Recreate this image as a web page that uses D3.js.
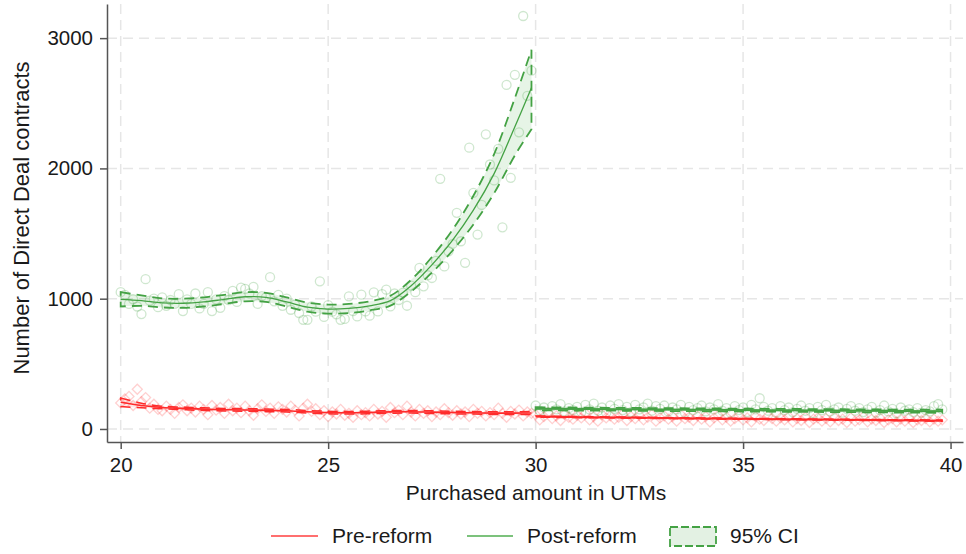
<!DOCTYPE html>
<html>
<head>
<meta charset="utf-8">
<script src="https://cdn.jsdelivr.net/npm/d3@7"></script>
<style>
  body { margin: 0; background: #fff; }
  svg { display: block; }
  text { font-family: "Liberation Sans", Arial, sans-serif; fill: #1a1a1a; }
</style>
</head>
<body>
<svg width="966" height="554"></svg>
<script>
// **** data: bin counts, bins are 0.1 UTM wide ****
const binWidth = 0.1;
const leftStart = 20;   // bins 20.0 .. 29.9
const rightStart = 30;  // bins 30.0 .. 39.8

// Post-reform counts below the 30 UTM threshold
const postLeft = [
  1050, 1030, 960, 995, 940, 882, 1150, 985, 1000, 935,
  1010, 945, 990, 960, 1035, 905, 995, 960, 1040, 925,
  960, 1050, 905, 995, 930, 1020, 990, 1060, 975, 1085,
  1075, 1040, 1090, 960, 1020, 1010, 1165, 980, 1030, 945,
  1000, 915, 955, 890, 838, 838, 940, 900, 1133, 860,
  950, 900, 880, 838, 845, 1018, 905, 864, 1031, 902,
  870, 1049, 902, 1035, 1069, 941, 1040, 990, 1046, 946,
  1100, 1050, 1236, 1095, 1180, 1159, 1290, 1920, 1248, 1364,
  1420, 1659, 1441, 1275, 2159, 1813, 1492, 1720, 2262, 2030,
  1908, 2150, 1548, 2641, 1928, 2718, 2277, 3170, 2557, 2750
];
// Pre-reform counts below the threshold
const preLeft = [
  200, 230, 250, 180, 305, 210, 241, 160, 190, 150,
  140, 175, 150, 120, 165, 185, 140, 160, 130, 175,
  150, 110, 180, 145, 165, 120, 190, 140, 160, 125,
  175, 140, 105, 155, 185, 135, 160, 120, 170, 150,
  130, 175, 145, 100, 160, 190, 135, 155, 110, 140,
  95, 130, 115, 150, 105, 120, 90, 140, 110, 125,
  100, 150, 115, 135, 90, 165, 125, 145, 110, 175,
  130, 100, 150, 120, 140, 95, 130, 110, 155, 125,
  105, 140, 115, 130, 95, 150, 120, 135, 100, 125,
  110, 160, 120, 90, 135, 115, 145, 100, 130, 120
];
// Post-reform counts above the threshold
const postRight = [
  180, 140, 165, 125, 175, 150, 190, 135, 160, 145,
  170, 130, 185, 150, 195, 140, 165, 125, 180, 155,
  190, 145, 170, 130, 185, 150, 165, 195, 140, 175,
  155, 180, 135, 165, 150, 185, 125, 170, 145, 160,
  180, 135, 165, 150, 190, 140, 160, 125, 175, 145,
  165, 130, 185, 150, 236, 170, 140, 160, 125, 175,
  145, 165, 130, 155, 180, 140, 160, 120, 170, 145,
  185, 135, 150, 165, 125, 155, 175, 140, 160, 130,
  150, 170, 125, 145, 180, 135, 155, 120, 165, 140,
  150, 130, 160, 125, 145, 135, 175, 190, 150
];
// Pre-reform counts above the threshold
const preRight = [
  110, 70, 95, 125, 80, 100, 65, 115, 90, 75,
  105, 85, 120, 70, 95, 60, 110, 85, 100, 75,
  90, 115, 65, 95, 80, 105, 70, 90, 110, 60,
  85, 100, 75, 95, 60, 110, 80, 90, 65, 100,
  75, 95, 55, 85, 105, 70, 90, 60, 80, 100,
  70, 85, 55, 95, 75, 65, 100, 80, 60, 85,
  70, 95, 55, 80, 65, 90, 50, 75, 85, 60,
  80, 55, 90, 65, 75, 50, 85, 60, 70, 95,
  55, 75, 65, 85, 50, 70, 80, 55, 75, 60,
  85, 50, 70, 65, 80, 55, 75, 60, 70
];

// local polynomial fits and 95% CI, below threshold
const fitXLeft = [20, 20.5, 21, 21.5, 22, 22.5, 23, 23.5, 24, 24.5, 25, 25.5, 26, 26.5, 27, 27.5, 28, 28.5, 29, 29.5, 29.9];
const postFitLeft = [995, 985, 968, 965, 975, 995, 1015, 1010, 975, 935, 920, 925, 945, 985, 1100, 1260, 1450, 1680, 1960, 2320, 2620];
const postLoLeft  = [940, 945, 933, 930, 940, 960, 980, 975, 940, 900, 885, 890, 910, 947, 1055, 1200, 1370, 1570, 1810, 2100, 2300];
const postHiLeft  = [1050, 1025, 1003, 1000, 1010, 1030, 1050, 1045, 1010, 970, 955, 960, 980, 1023, 1145, 1320, 1530, 1790, 2110, 2540, 2910];
const preFitLeft  = [205, 180, 165, 158, 152, 148, 146, 143, 140, 132, 126, 124, 127, 131, 132, 129, 126, 124, 122, 122, 123];
const preLoLeft   = [172, 162, 155, 148, 142, 138, 136, 133, 130, 122, 116, 114, 117, 121, 122, 119, 116, 114, 112, 112, 111];
const preHiLeft   = [238, 198, 175, 168, 162, 158, 156, 153, 150, 142, 136, 134, 137, 141, 142, 139, 136, 134, 132, 132, 135];

// fits above threshold
const fitXRight = [30, 32, 34, 36, 38, 39.8];
const postFitRight = [155, 151, 147, 143, 139, 136];
const postLoRight  = [143, 140, 136, 132, 128, 124];
const postHiRight  = [167, 162, 158, 154, 150, 148];
const preFitRight  = [95, 88, 81, 75, 69, 64];
const preLoRight   = [89, 83, 76, 70, 64, 58];
const preHiRight   = [101, 93, 86, 80, 74, 70];

const xTicks = [20, 25, 30, 35, 40];
const yTicks = [0, 1000, 2000, 3000];

// **** scales ****
const svg = d3.select('svg');
const plotLeft = 107, plotRight = 963, plotTop = 4, plotBottom = 442;

const x = d3.scaleLinear().domain([19.67, 40.3]).range([plotLeft, plotRight]);
const y = d3.scaleLinear().domain([-100, 3262]).range([plotBottom, plotTop]);

const green = '#44a244';
const red = '#ff2b2b';

// **** grid ****
svg.append('g').selectAll('line')
  .data(xTicks).enter().append('line')
  .attr('x1', d => x(d)).attr('x2', d => x(d))
  .attr('y1', plotTop).attr('y2', plotBottom)
  .attr('stroke', '#e6e6e6').attr('stroke-width', 1.5)
  .attr('stroke-dasharray', '10,6');

svg.append('g').selectAll('line')
  .data(yTicks).enter().append('line')
  .attr('x1', plotLeft).attr('x2', plotRight)
  .attr('y1', d => y(d)).attr('y2', d => y(d))
  .attr('stroke', '#e6e6e6').attr('stroke-width', 1.5)
  .attr('stroke-dasharray', '10,6');

// **** scatter ****
function pts(values, start) {
  return values.map((v, i) => ({ x: start + i * binWidth, v: v }));
}

function circles(values, start) {
  svg.append('g').selectAll('circle')
    .data(pts(values, start)).enter().append('circle')
    .attr('cx', d => x(d.x))
    .attr('cy', d => y(d.v))
    .attr('r', 4.5)
    .attr('fill', 'none')
    .attr('stroke', green)
    .attr('stroke-opacity', 0.26)
    .attr('stroke-width', 1.3);
}

function diamonds(values, start) {
  svg.append('g').selectAll('path')
    .data(pts(values, start)).enter().append('path')
    .attr('d', d3.symbol(d3.symbolSquare, 50))
    .attr('transform', d => `translate(${x(d.x)},${y(d.v)}) rotate(45)`)
    .attr('fill', 'none')
    .attr('stroke', red)
    .attr('stroke-opacity', 0.22)
    .attr('stroke-width', 1.3);
}

diamonds(preLeft, leftStart);
diamonds(preRight, rightStart);
circles(postLeft, leftStart);
circles(postRight, rightStart);

// **** fitted lines with CI ****
function band(xs, lo, hi, fit, color, fillColor, dashWidth, lineWidth) {
  const rows = xs.map((d, i) => ({ x: d, lo: lo[i], hi: hi[i], fit: fit[i] }));
  const area = d3.area()
    .x(d => x(d.x)).y0(d => y(d.lo)).y1(d => y(d.hi))
    .curve(d3.curveCatmullRom);
  svg.append('path')
    .attr('d', area(rows))
    .attr('fill', fillColor)
    .attr('stroke', color)
    .attr('stroke-width', dashWidth)
    .attr('stroke-dasharray', '10,6');
  const line = d3.line()
    .x(d => x(d.x)).y(d => y(d.fit))
    .curve(d3.curveCatmullRom);
  svg.append('path')
    .attr('d', line(rows))
    .attr('fill', 'none')
    .attr('stroke', color)
    .attr('stroke-width', lineWidth);
}

band(fitXLeft, preLoLeft, preHiLeft, preFitLeft, red, 'rgba(255,60,60,0.12)', 1.5, 1.6);
band(fitXRight, preLoRight, preHiRight, preFitRight, red, 'rgba(255,60,60,0.12)', 1.2, 2);
band(fitXLeft, postLoLeft, postHiLeft, postFitLeft, green, 'rgba(60,170,60,0.13)', 1.8, 1.3);
band(fitXRight, postLoRight, postHiRight, postFitRight, green, 'rgba(60,170,60,0.13)', 1.8, 2);

// **** axes ****
const xAxis = svg.append('g')
  .attr('transform', `translate(0,${plotBottom})`)
  .call(d3.axisBottom(x).tickValues(xTicks).tickSize(7).tickSizeOuter(0).tickPadding(8));

const yAxis = svg.append('g')
  .attr('transform', `translate(${plotLeft},0)`)
  .call(d3.axisLeft(y).tickValues(yTicks).tickFormat(d3.format('d')).tickSize(7).tickSizeOuter(0).tickPadding(7));

[xAxis, yAxis].forEach(g => {
  g.select('.domain').attr('stroke', '#555').attr('stroke-width', 1.5);
  g.selectAll('.tick line').attr('stroke', '#555').attr('stroke-width', 1.5);
  g.selectAll('.tick text')
    .attr('fill', '#1a1a1a')
    .style('font-size', '20.5px')
    .style('font-family', '"Liberation Sans", Arial, sans-serif');
});

// axis titles
svg.append('text')
  .attr('text-anchor', 'middle')
  .attr('x', 536)
  .attr('y', 500)
  .style('font-size', '21px')
  .text('Purchased amount in UTMs');

svg.append('text')
  .attr('text-anchor', 'middle')
  .attr('transform', 'translate(29,218) rotate(-90)')
  .style('font-size', '22px')
  .text('Number of Direct Deal contracts');

// **** legend ****
const legend = svg.append('g');
legend.append('line')
  .attr('x1', 271).attr('x2', 318).attr('y1', 536).attr('y2', 536)
  .attr('stroke', '#ff6f6f').attr('stroke-width', 2);
legend.append('text').attr('x', 332).attr('y', 543).style('font-size', '21px').text('Pre-reform');

legend.append('line')
  .attr('x1', 467).attr('x2', 513).attr('y1', 536).attr('y2', 536)
  .attr('stroke', '#7cc27c').attr('stroke-width', 2);
legend.append('text').attr('x', 527).attr('y', 543).style('font-size', '21px').text('Post-reform');

legend.append('rect')
  .attr('x', 670).attr('y', 527).attr('width', 46).attr('height', 19)
  .attr('fill', '#e3f1e3')
  .attr('stroke', green).attr('stroke-width', 1.8).attr('stroke-dasharray', '8,3');
legend.append('text').attr('x', 730).attr('y', 543).style('font-size', '21px').text('95% CI');
</script>
</body>
</html>
